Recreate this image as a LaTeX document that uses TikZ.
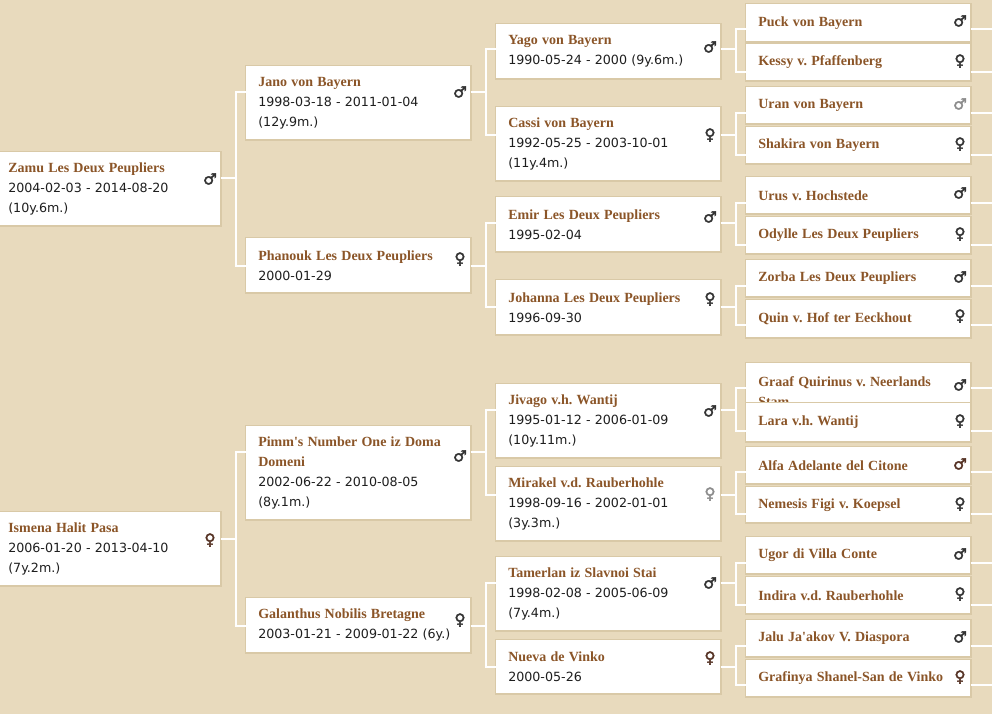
\documentclass[tikz,border=0pt]{standalone}
\usepackage{fontspec}
\setmainfont{DejaVu Sans}
\newfontfamily\namefont{Liberation Serif}
\newfontfamily\datefont{DejaVu Sans}
\newfontfamily\sexfont{DejaVu Sans}[FakeBold=2.5]
\usetikzlibrary{calc}
\definecolor{page}{HTML}{E8DABD}
\definecolor{boxshadow}{HTML}{D9C9A7}
\definecolor{namecol}{HTML}{8B5528}
\definecolor{datecol}{HTML}{1E1E1E}
\definecolor{symcol}{HTML}{333333}
\definecolor{symgrey}{HTML}{8C8C8C}
\definecolor{symbrown}{HTML}{553224}
\newcommand\dogname[1]{{\namefont\bfseries\fontsize{10.5}{15}\selectfont\color{namecol}#1}}
\frenchspacing
\tikzset{
	every node/.style = {font=\datefont\fontsize{9.5}{15}\selectfont, text=datecol},
	dog/.style = {anchor=north west, fill=white, preaction={draw=boxshadow, line width=2.2pt},
		inner xsep=9pt, inner ysep=0pt, text width=150pt, align=left},
	sex/.style = {font=\sexfont\fontsize{11.5}{12}\selectfont, inner sep=0pt},
	link/.style = {draw=white, line width=1.5pt}
}

\begin{document}
\begin{tikzpicture}[x=0.75pt, y=-0.75pt]
		\fill[page] (0,0) rectangle (992,714);
		\useasboundingbox (0,0) rectangle (992,714);
		\clip (0,0) rectangle (992,714);
		\coordinate (edge) at (992,0);
		
		% generation 1
		\foreach \id/\y/\h/\c/\s/\g/\sc/\txt in {
			zamu/152/73/178/179/♂/symcol/{\dogname{Zamu Les Deux Peupliers}\\2004-02-03 - 2014-08-20\\(10y.6m.)},
			ismena/512/73/539/540/♀/symbrown/{\dogname{Ismena Halit Pasa}\\2006-01-20 - 2013-04-10\\(7y.2m.)}}
		{
			\node[dog, minimum height=\h*0.75pt] (\id) at (-4,\y) {\txt};
			\node[sex, text=\sc] (\id-s) at (210,\s) {\g};
			\coordinate (\id-l) at (0,\c);
		}
		
		% generation 2
		\foreach \id/\y/\h/\c/\s/\g/\sc/\txt in {
			jano/66/73/92/92/♂/symcol/{\dogname{Jano von Bayern}\\1998-03-18 - 2011-01-04\\(12y.9m.)},
			phanouk/238/54/266/259/♀/symcol/{\dogname{Phanouk Les Deux Peupliers}\\2000-01-29},
			pimm/426/93/452/456/♂/symcol/{\dogname{Pimm's Number One iz Doma\\Domeni}\\2002-06-22 - 2010-08-05\\(8y.1m.)},
			galanthus/598/54/626/620/♀/symcol/{\dogname{Galanthus Nobilis Bretagne}\\2003-01-21 - 2009-01-22 (6y.)}}
		{
			\node[dog, minimum height=\h*0.75pt] (\id) at (246,\y) {\txt};
			\node[sex, text=\sc] (\id-s) at (460,\s) {\g};
			\coordinate (\id-l) at (0,\c);
		}
		
		% generation 3
		\foreach \id/\y/\h/\c/\s/\g/\sc/\txt in {
			yago/24/54/49/47/♂/symcol/{\dogname{Yago von Bayern}\\1990-05-24 - 2000 (9y.6m.)},
			cassi/107/73/135/135/♀/symcol/{\dogname{Cassi von Bayern}\\1992-05-25 - 2003-10-01\\(11y.4m.)},
			emir/197/54/223/217/♂/symcol/{\dogname{Emir Les Deux Peupliers}\\1995-02-04},
			johanna/280/54/307/299/♀/symcol/{\dogname{Johanna Les Deux Peupliers}\\1996-09-30},
			jivago/384/73/410/411/♂/symcol/{\dogname{Jivago v.h. Wantij}\\1995-01-12 - 2006-01-09\\(10y.11m.)},
			mirakel/467/73/495/494/♀/symgrey/{\dogname{Mirakel v.d. Rauberhohle}\\1998-09-16 - 2002-01-01\\(3y.3m.)},
			tamerlan/557/73/583/583/♂/symcol/{\dogname{Tamerlan iz Slavnoi Stai}\\1998-02-08 - 2005-06-09\\(7y.4m.)},
			nueva/640/53/667/658/♀/symbrown/{\dogname{Nueva de Vinko}\\2000-05-26}}
		{
			\node[dog, minimum height=\h*0.75pt] (\id) at (496,\y) {\txt};
			\node[sex, text=\sc] (\id-s) at (710,\s) {\g};
			\coordinate (\id-l) at (0,\c);
		}
		
		% generation 4
		\foreach \id/\y/\h/\c/\s/\g/\sc/\txt in {
			puck/4/37/29/21/♂/symcol/Puck von Bayern,
			kessy/44/36/72/61/♀/symcol/Kessy v. Pfaffenberg,
			uran/87/36/113/104/♂/symgrey/Uran von Bayern,
			shakira/127/36/155/144/♀/symcol/Shakira von Bayern,
			urus/177/36/203/193/♂/symcol/Urus v. Hochstede,
			odylle/217/36/245/234/♀/symcol/Odylle Les Deux Peupliers,
			zorba/260/36/286/277/♂/symcol/Zorba Les Deux Peupliers,
			quin/300/37/325/316/♀/symcol/Quin v. Hof ter Eeckhout,
			graaf/363/57/388/385/♂/symcol/{Graaf Quirinus v. Neerlands\\Stam},
			lara/403/38/431/421/♀/symcol/Lara v.h. Wantij,
			alfa/447/36/472/464/♂/symbrown/Alfa Adelante del Citone,
			nemesis/487/35/514/504/♀/symcol/Nemesis Figi v. Koepsel,
			ugor/537/36/563/554/♂/symcol/Ugor di Villa Conte,
			indira/577/36/605/594/♀/symcol/Indira v.d. Rauberhohle,
			jalu/620/36/646/637/♂/symcol/Jalu Ja'akov V. Diaspora,
			grafinya/660/36/685/677/♀/symbrown/Grafinya Shanel-San de Vinko}
		{
			\node[dog, minimum height=\h*0.75pt] (\id) at (746,\y) {\dogname{\txt}};
			\node[sex, text=\sc] (\id-s) at (960,\s) {\g};
			\coordinate (\id-l) at (0,\c);
			\draw[link] (\id.east |- \id-l) -- (edge |- \id-l);
		}
		
		% brackets
		\foreach \p/\a/\b in {zamu/jano/phanouk, ismena/pimm/galanthus,
			jano/yago/cassi, phanouk/emir/johanna, pimm/jivago/mirakel, galanthus/tamerlan/nueva,
			yago/puck/kessy, cassi/uran/shakira, emir/urus/odylle, johanna/zorba/quin,
			jivago/graaf/lara, mirakel/alfa/nemesis, tamerlan/ugor/indira, nueva/jalu/grafinya}
		{
			\draw[link] (\a.west |- \a-l) -- ++(-10,0) |- (\b.west |- \b-l);
			\draw[link] (\p.east |- \p-l) -- ($(\a.west |- \p-l)+(-10,0)$);
		}
	\end{tikzpicture}
\end{document}
